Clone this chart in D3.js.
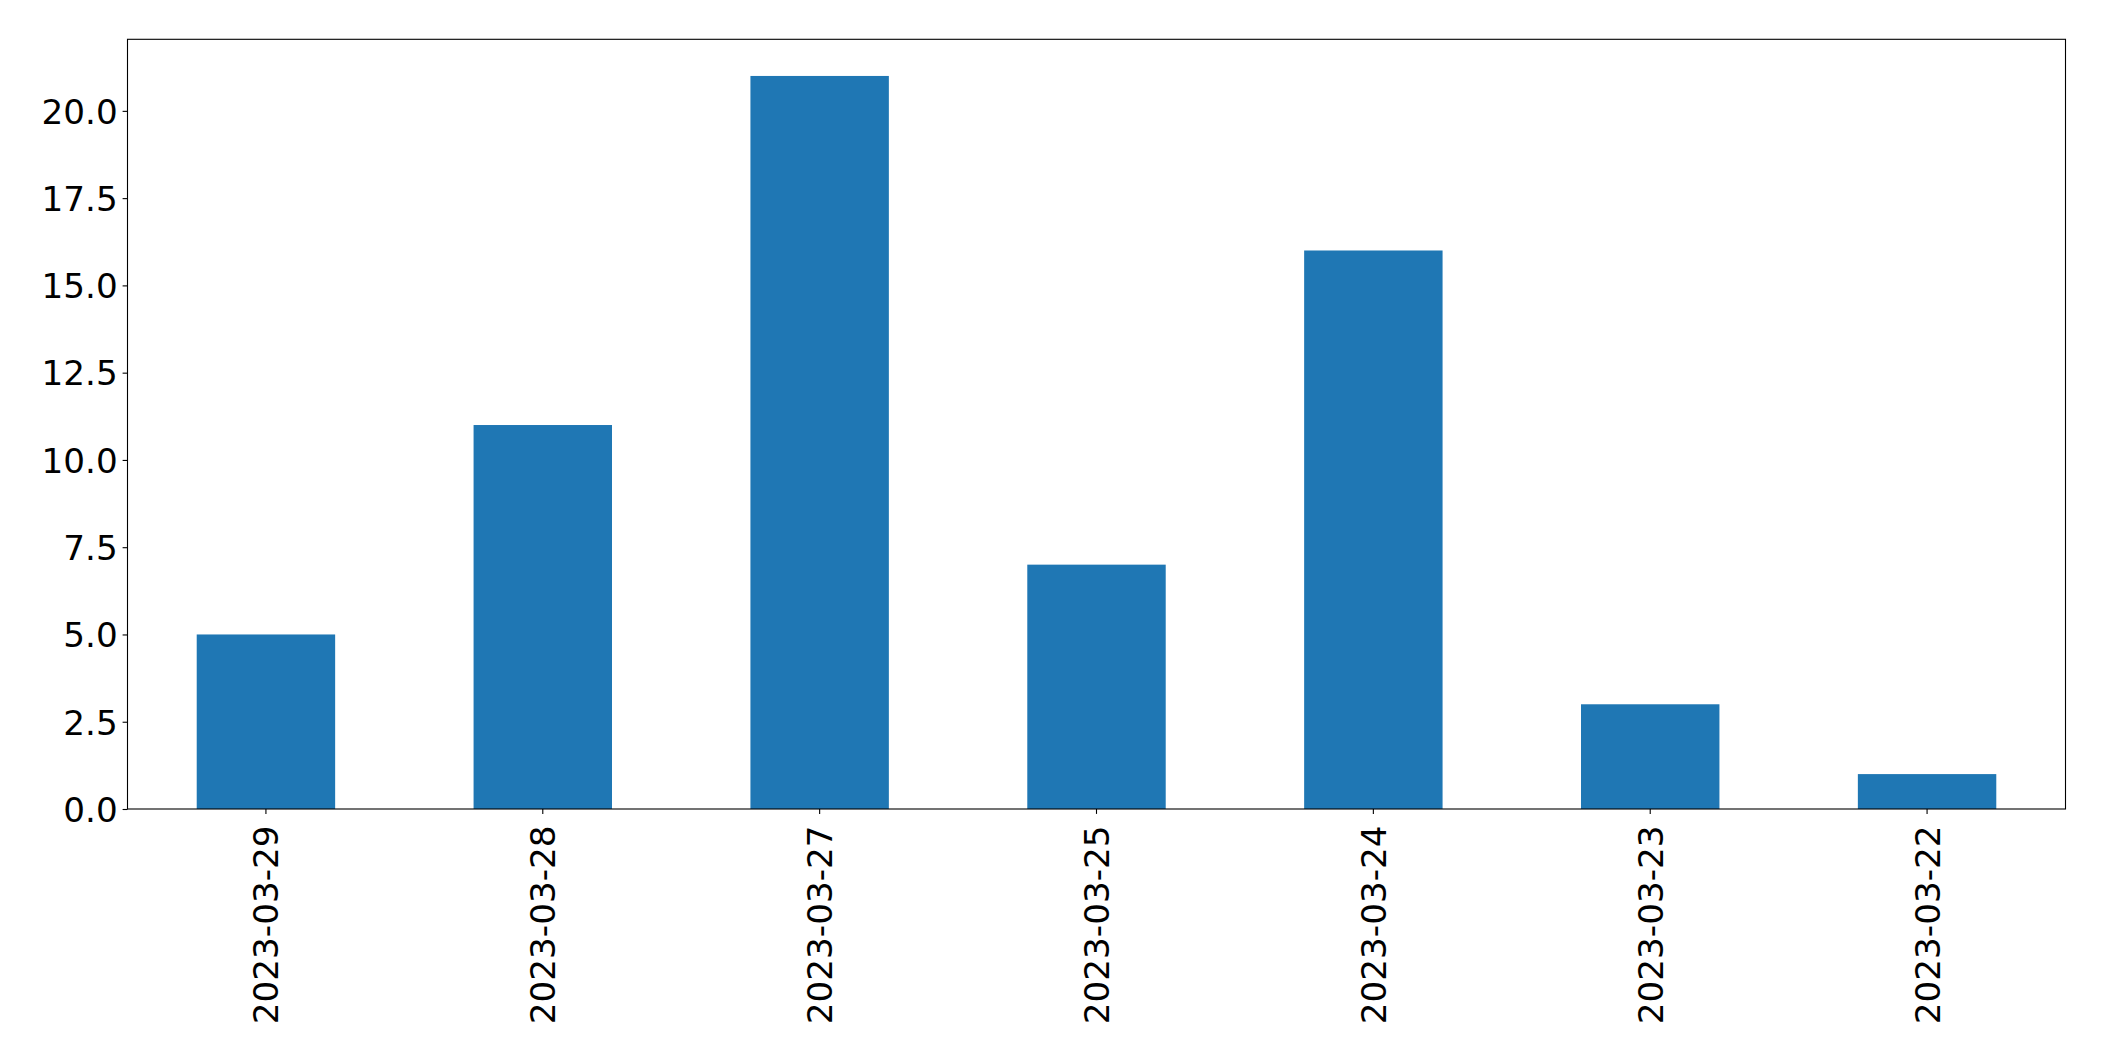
<!DOCTYPE html>
<html><head><meta charset="utf-8">
<script src="https://cdn.jsdelivr.net/npm/d3@7/dist/d3.min.js"></script>
<style>html,body{margin:0;padding:0;background:#fff;}svg{display:block;}</style>
</head><body>
<script>
const categories = ["2023-03-29","2023-03-28","2023-03-27","2023-03-25","2023-03-24","2023-03-23","2023-03-22"];
const values = [5, 11, 21, 7, 16, 3, 1];
const yTicks = [0, 2.5, 5, 7.5, 10, 12.5, 15, 17.5, 20];

(function () {
const W = 2104, H = 1061;
const mLeft = 127.5, mRight = 2065.5, mTop = 39.3, mBottom = 809;
const fontSize = 34.2;

const svg = d3.select("body").append("svg").attr("width", W).attr("height", H)
  .style("font-family", "'DejaVu Sans', sans-serif");

const x = d3.scaleBand().domain(categories).range([mLeft, mRight]).paddingInner(0.5).paddingOuter(0.25);
const y = d3.scaleLinear().domain([0, d3.max(values) * 1.05]).range([mBottom, mTop]);

svg.append("g").selectAll("rect").data(values).join("rect")
  .attr("x", (d, i) => x(categories[i]))
  .attr("width", x.bandwidth())
  .attr("y", d => y(d))
  .attr("height", d => y(0) - y(d))
  .attr("fill", "#1f77b4");

// frame
svg.append("rect").attr("x", mLeft).attr("y", mTop).attr("width", mRight - mLeft).attr("height", mBottom - mTop)
  .attr("fill", "none").attr("stroke", "#000").attr("stroke-width", 1.1);

// y axis
const yAxis = d3.axisLeft(y).tickValues(yTicks).tickFormat(d3.format(".1f")).tickSize(4.9).tickPadding(4.9);
const gy = svg.append("g").attr("transform", `translate(${mLeft},0)`).call(yAxis);
gy.select(".domain").remove();
gy.selectAll(".tick line").attr("stroke", "#000").attr("stroke-width", 1.1);
gy.selectAll(".tick text").attr("font-size", fontSize).attr("fill", "#000")
  .attr("font-family", "'DejaVu Sans', sans-serif").attr("dy", "0.36em");

// x axis
const xAxis = d3.axisBottom(x).tickSize(4.9).tickPadding(4.9);
const gx = svg.append("g").attr("transform", `translate(0,${mBottom})`).call(xAxis);
gx.select(".domain").remove();
gx.selectAll(".tick line").attr("stroke", "#000").attr("stroke-width", 1.1);
gx.selectAll(".tick text").attr("font-size", fontSize).attr("fill", "#000")
  .attr("font-family", "'DejaVu Sans', sans-serif")
  .attr("text-anchor", "end")
  .attr("x", 0).attr("y", 0).attr("dy", "0.365em")
  .attr("transform", "translate(0,16.5) rotate(-90)");
})();
</script>
</body></html>
